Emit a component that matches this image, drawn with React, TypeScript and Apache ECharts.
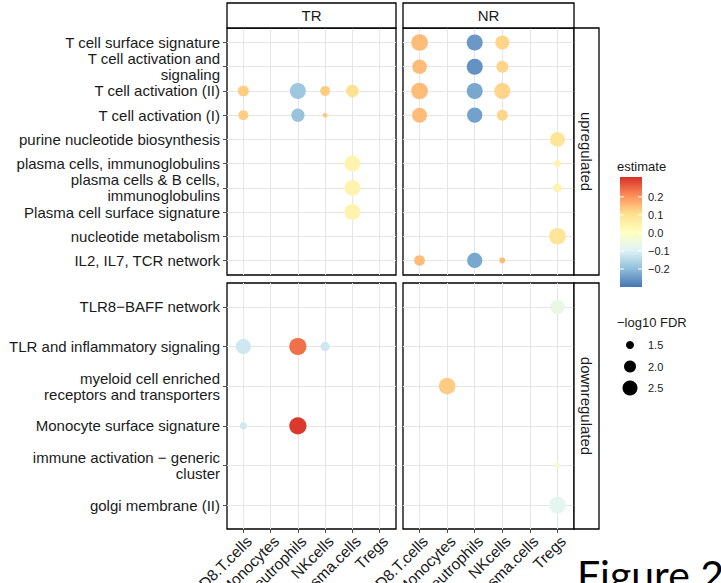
import React, { useEffect, useRef } from "react";
import * as echarts from "echarts";

const cellTypes = ["CD8.T.cells", "Monocytes", "Neutrophils", "NKcells", "Plasma.cells", "Tregs"];
const panelNames = ["TR", "NR"];
const directionNames = ["upregulated", "downregulated"];

const upPathways = [
  "T cell surface signature",
  "T cell activation and\nsignaling",
  "T cell activation (II)",
  "T cell activation (I)",
  "purine nucleotide biosynthesis",
  "plasma cells, immunoglobulins",
  "plasma cells & B cells,\nimmunoglobulins",
  "Plasma cell surface signature",
  "nucleotide metabolism",
  "IL2, IL7, TCR network",
];
const downPathways = [
  "TLR8\u2212BAFF network",
  "TLR and inflammatory signaling",
  "myeloid cell enriched\nreceptors and transporters",
  "Monocyte surface signature",
  "immune activation \u2212 generic\ncluster",
  "golgi membrane (II)",
];

// [cell type, pathway index, estimate, -log10 FDR]
type Pt = [string, number, number, number];
const trUp: Pt[] = [
  ["CD8.T.cells", 2, 0.13, 1.86],
  ["Neutrophils", 2, -0.18, 2.7],
  ["NKcells", 2, 0.13, 1.73],
  ["Plasma.cells", 2, 0.1, 2.1],
  ["CD8.T.cells", 3, 0.13, 1.73],
  ["Neutrophils", 3, -0.19, 2.2],
  ["NKcells", 3, 0.14, 1.24],
  ["Plasma.cells", 5, 0.04, 2.7],
  ["Plasma.cells", 6, 0.04, 2.7],
  ["Plasma.cells", 7, 0.04, 2.7],
];
const nrUp: Pt[] = [
  ["CD8.T.cells", 0, 0.15, 2.83],
  ["Neutrophils", 0, -0.25, 2.7],
  ["NKcells", 0, 0.12, 2.33],
  ["CD8.T.cells", 1, 0.15, 2.45],
  ["Neutrophils", 1, -0.26, 2.7],
  ["NKcells", 1, 0.12, 2.0],
  ["CD8.T.cells", 2, 0.15, 2.83],
  ["Neutrophils", 2, -0.23, 2.7],
  ["NKcells", 2, 0.12, 2.7],
  ["CD8.T.cells", 3, 0.15, 2.5],
  ["Neutrophils", 3, -0.24, 2.55],
  ["NKcells", 3, 0.12, 1.86],
  ["Tregs", 4, 0.09, 2.5],
  ["Tregs", 5, 0.04, 1.43],
  ["Tregs", 6, 0.04, 1.57],
  ["Tregs", 8, 0.09, 2.83],
  ["CD8.T.cells", 9, 0.15, 1.81],
  ["Neutrophils", 9, -0.23, 2.55],
  ["NKcells", 9, 0.15, 1.33],
];
const trDown: Pt[] = [
  ["CD8.T.cells", 1, -0.12, 2.55],
  ["Neutrophils", 1, 0.24, 2.95],
  ["NKcells", 1, -0.12, 1.64],
  ["CD8.T.cells", 3, -0.12, 1.43],
  ["Neutrophils", 3, 0.3, 2.95],
];
const nrDown: Pt[] = [
  ["Tregs", 0, -0.06, 2.45],
  ["Monocytes", 2, 0.13, 2.83],
  ["Tregs", 4, -0.03, 1.33],
  ["Tregs", 5, -0.08, 2.83],
];

const estimateMin = -0.3;
const estimateMax = 0.31;
const estimateBreaks = [0.2, 0.1, 0.0, -0.1, -0.2];
const sizeBreaks = [1.5, 2.0, 2.5];
const paletteLowToHigh = ["#4575B4", "#91BFDB", "#E0F3F8", "#FFFFBF", "#FEE090", "#FC8D59", "#D73027"];

const FONT = "'Liberation Sans', Arial, Helvetica, sans-serif";
const TXT = "#1A1A1A";

function sizeOf(v: number) {
  return 2 * Math.sqrt(Math.max(40 * v - 44, 2));
}
function fmtNum(v: number) {
  const s = v.toFixed(1);
  return v < 0 ? "\u2212" + s.slice(1) : s;
}

// panel layout
const panels = [
  { left: 227, top: 28, width: 169, height: 247 },
  { left: 403, top: 28, width: 171, height: 247 },
  { left: 227, top: 283, width: 169, height: 246 },
  { left: 403, top: 283, width: 171, height: 246 },
];

function labelAt(list: string[], v: number) {
  const r = Math.round(v);
  if (Math.abs(v - r) > 1e-6 || r < 0 || r >= list.length) return "";
  return list[r];
}

export default function App() {
  const ref = useRef<HTMLDivElement>(null);
  useEffect(() => {
    if (!ref.current) return;
    const chart = echarts.init(ref.current, undefined, { renderer: "svg" });
    const datasets = [trUp, nrUp, trDown, nrDown];
    const rowsFor = (i: number) => (i < 2 ? upPathways : downPathways);

    const xAxis = panels.map((_, i) => {
      const show = i >= 2;
      return {
        type: "value",
        gridIndex: i,
        position: "bottom",
        min: -0.6,
        max: cellTypes.length - 0.4,
        minInterval: 1,
        maxInterval: 1,
        splitNumber: cellTypes.length,
        axisLine: { show: false, onZero: false },
        axisTick: {
          show,
          length: 4,
          lineStyle: { color: "#4D4D4D", width: 1 },
          customValues: cellTypes.map((_, k) => k),
        },
        axisLabel: {
          show,
          rotate: 45,
          fontSize: 15.5,
          color: TXT,
          fontFamily: FONT,
          margin: 4,
          verticalAlign: "top",
          customValues: cellTypes.map((_, k) => k),
          formatter: (v: number) => labelAt(cellTypes, v),
        },
        splitLine: { show: true, lineStyle: { color: "#E6E6E6", width: 1 } },
      };
    });
    const yAxis = panels.map((_, i) => {
      const rows = rowsFor(i);
      const show = i % 2 === 0;
      return {
        type: "value",
        gridIndex: i,
        position: "left",
        inverse: true,
        min: -0.6,
        max: rows.length - 0.4,
        minInterval: 1,
        maxInterval: 1,
        splitNumber: rows.length,
        axisLine: { show: false, onZero: false },
        axisTick: {
          show,
          length: 4,
          lineStyle: { color: "#4D4D4D", width: 1 },
          customValues: rows.map((_, k) => k),
        },
        axisLabel: {
          show,
          fontSize: 15,
          lineHeight: 16,
          color: TXT,
          fontFamily: FONT,
          margin: 7,
          align: "right",
          customValues: rows.map((_, k) => k),
          formatter: (v: number) => labelAt(rows, v),
        },
        splitLine: { show: true, lineStyle: { color: "#E6E6E6", width: 1 } },
      };
    });

    const series = datasets.map((d, i) => ({
      type: "scatter",
      xAxisIndex: i,
      yAxisIndex: i,
      data: d.map((p) => [cellTypes.indexOf(p[0]), p[1], p[2], p[3]]),
      symbolSize: (val: number[]) => sizeOf(val[3]),
      itemStyle: { opacity: 1 },
      z: 3,
    }));

    // legend geometry
    const barX = 620, barY = 177, barW = 22, barH = 110;
    const yOfEst = (v: number) => barY + ((estimateMax - v) / (estimateMax - estimateMin)) * barH;
    const gradStops = paletteLowToHigh
      .map((c, k) => ({ offset: 1 - k / (paletteLowToHigh.length - 1), color: c }))
      .reverse();

    const graphic: any[] = [];
    panelNames.forEach((name, k) => {
      const p = panels[k];
      graphic.push({
        type: "rect",
        shape: { x: p.left, y: 3, width: p.width, height: 25 },
        style: { fill: "#FFFFFF", stroke: "#000000", lineWidth: 1.3 },
        z: 10,
      });
      graphic.push({
        type: "text",
        x: p.left + p.width / 2,
        y: 15.5,
        style: { text: name, fontSize: 15, fontFamily: FONT, fill: TXT, align: "center", verticalAlign: "middle" },
        z: 11,
      });
    });
    directionNames.forEach((name, k) => {
      const p = panels[k * 2 + 1];
      const sx = p.left + p.width;
      graphic.push({
        type: "rect",
        shape: { x: sx, y: p.top, width: 25, height: p.height },
        style: { fill: "#FFFFFF", stroke: "#000000", lineWidth: 1.3 },
        z: 10,
      });
      graphic.push({
        type: "text",
        x: sx + 12.5,
        y: p.top + p.height / 2,
        rotation: -Math.PI / 2,
        style: { text: name, fontSize: 15, fontFamily: FONT, fill: TXT, align: "center", verticalAlign: "middle" },
        z: 11,
      });
    });
    graphic.push({
      type: "text",
      x: 617,
      y: 166,
      style: { text: "estimate", fontSize: 13, fontFamily: FONT, fill: TXT, align: "left", verticalAlign: "middle" },
    });
    graphic.push({
      type: "rect",
      shape: { x: barX, y: barY, width: barW, height: barH },
      style: { fill: new echarts.graphic.LinearGradient(0, 0, 0, 1, gradStops), lineWidth: 0 },
    });
    estimateBreaks.forEach((b) => {
      const y = yOfEst(b);
      graphic.push({ type: "line", shape: { x1: barX, y1: y, x2: barX + 4, y2: y }, style: { stroke: "#FFFFFF", lineWidth: 1 } });
      graphic.push({ type: "line", shape: { x1: barX + barW - 4, y1: y, x2: barX + barW, y2: y }, style: { stroke: "#FFFFFF", lineWidth: 1 } });
      graphic.push({
        type: "text",
        x: 648,
        y,
        style: { text: fmtNum(b), fontSize: 11, fontFamily: FONT, fill: TXT, align: "left", verticalAlign: "middle" },
      });
    });
    graphic.push({
      type: "text",
      x: 617,
      y: 322,
      style: { text: "\u2212log10 FDR", fontSize: 13, fontFamily: FONT, fill: TXT, align: "left", verticalAlign: "middle" },
    });
    sizeBreaks.forEach((b, k) => {
      const y = 345 + k * 21.5;
      graphic.push({ type: "circle", shape: { cx: 630, cy: y, r: sizeOf(b) / 2 }, style: { fill: "#000000" } });
      graphic.push({
        type: "text",
        x: 648,
        y,
        style: { text: b.toFixed(1), fontSize: 11, fontFamily: FONT, fill: TXT, align: "left", verticalAlign: "middle" },
      });
    });
    graphic.push({
      type: "text",
      x: 577,
      y: 574,
      style: { text: "Figure 2", fontSize: 41, fontFamily: "Lato, 'Open Sans', sans-serif", fill: "#000000", align: "left", verticalAlign: "middle" },
    });

    chart.setOption({
      animation: false,
      backgroundColor: "#FFFFFF",
      grid: panels.map((p) => ({
        left: p.left,
        top: p.top,
        width: p.width,
        height: p.height,
        show: true,
        borderColor: "#000000",
        borderWidth: 1.3,
        backgroundColor: "transparent",
        containLabel: false,
        outerBoundsMode: "none",
      })),
      xAxis,
      yAxis,
      visualMap: {
        type: "continuous",
        show: false,
        dimension: 2,
        min: estimateMin,
        max: estimateMax,
        seriesIndex: [0, 1, 2, 3],
        inRange: { color: paletteLowToHigh },
      },
      series,
      graphic,
    });
    return () => chart.dispose();
  }, []);
  return <div ref={ref} style={{ position: "fixed", left: 0, top: 0, width: 721, height: 583 }} />;
}
